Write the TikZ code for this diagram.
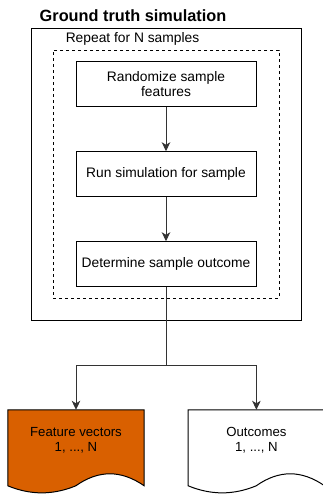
\documentclass[tikz,border=0pt]{standalone}
\usepackage{fontspec}
\setmainfont{Liberation Sans}
\usetikzlibrary{calc,arrows.meta}
\definecolor{docorange}{RGB}{217,96,0}
\definecolor{edgegray}{RGB}{51,51,51}
\tikzset{
  stepbox/.style={draw=black,line width=1pt,minimum width=180pt,minimum height=44.5pt,align=center,inner sep=2pt,font=\fontsize{13.8}{14.5}\selectfont},
  doctext/.style={align=center,font=\fontsize{13.2}{15.3}\selectfont,inner sep=0pt},
  docarea/.style={minimum width=136pt,minimum height=89.4pt,inner sep=0pt,draw=none},
  arr/.style={draw=edgegray,line width=0.9pt,-{Stealth[length=9pt,width=8.5pt,inset=2.5pt]}},
  conn/.style={draw=edgegray,line width=0.9pt},
}
\newcommand\docpath[2]{%
  \path[draw=black,line width=1pt,fill=#2]
    (#1.north west) -- (#1.north east) -- ($(#1.north east)+(0,76)$)
    .. controls ($(#1.north west)+(113.3,60)$) and ($(#1.north west)+(90.7,60)$) .. ($(#1.north west)+(68,76)$)
    .. controls ($(#1.north west)+(45.3,85.4)$) and ($(#1.north west)+(22.7,85.4)$) .. ($(#1.north west)+(0,76)$)
    -- cycle;}
\begin{document}
\begin{tikzpicture}[x=1pt,y=-1pt]
\useasboundingbox[fill=white] (0,0) rectangle (322,499);
% outer box
\node[draw=black,line width=1pt,minimum width=270pt,minimum height=292pt,inner sep=0pt] (outer) at (166,174) {};
\node[font=\fontsize{16.3}{18}\selectfont\bfseries,anchor=center] (title) at (133,16) {Ground truth simulation};
\node[draw=black,line width=1pt,dash pattern=on 3pt off 3pt,minimum width=226pt,minimum height=248pt,inner sep=0pt] (loop) at (166,174) {};
\node[font=\fontsize{13.8}{14.5}\selectfont] (looplabel) at (132.5,39) {Repeat for N samples};
\node[stepbox] (b1) at (166,84) {Randomize sample\\features};
\node[stepbox] (b2) at (166,174) {Run simulation for sample};
\node[stepbox] (b3) at (166,264) {Determine sample outcome};
\draw[arr] (b1) -- (b2);
\draw[arr] (b2) -- (b3);
\coordinate (split) at (166,365);
% documents
\node[docarea] (d1) at (76,454.7) {};
\node[docarea] (d2) at (256.4,454.7) {};
\docpath{d1}{docorange}
\docpath{d2}{white}
\node[doctext] (t1) at (76,440.5) {Feature vectors\\1, ..., N};
\node[doctext] (t2) at (256.4,440.5) {Outcomes\\1, ..., N};
\draw[conn] (b3.south) -- (split);
\draw[arr] (split) -| (d1.north);
\draw[arr] (split) -| (d2.north);
\end{tikzpicture}
\end{document}
